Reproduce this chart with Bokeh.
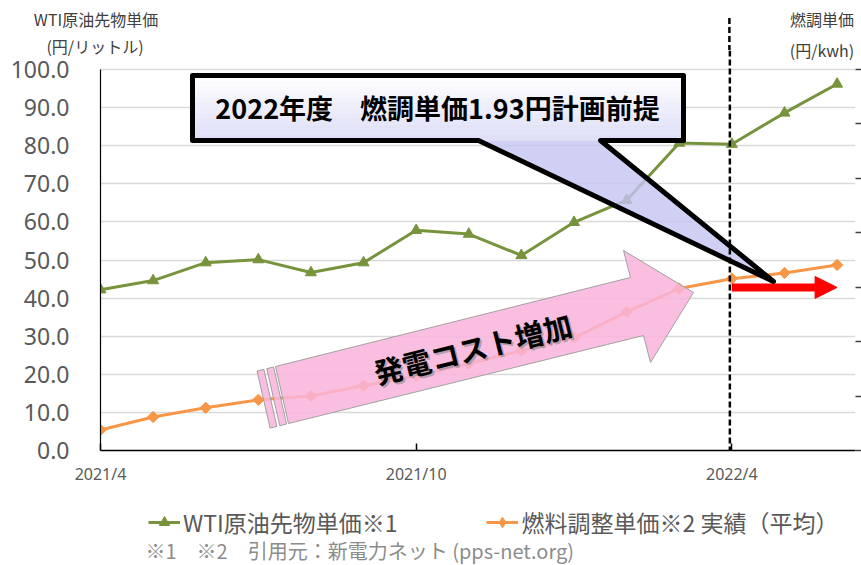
import numpy as np
from bokeh.plotting import figure
from bokeh.layouts import column
from bokeh.models import (Range1d, LinearAxis, FixedTicker, Label, Legend, LegendItem, Div,
                          PolyAnnotation, BoxAnnotation, Arrow, NormalHead, NumeralTickFormatter)
from bokeh.embed import file_html
from bokeh.resources import INLINE

# ---------------- data ----------------
months = ["2021/4", "2021/5", "2021/6", "2021/7", "2021/8", "2021/9", "2021/10", "2021/11",
          "2021/12", "2022/1", "2022/2", "2022/3", "2022/4", "2022/5", "2022/6"]
wti = [42.2, 44.6, 49.3, 50.1, 46.7, 49.3, 57.8, 56.8, 51.2, 59.9, 65.7, 80.7, 80.4, 88.6, 96.2]
fuel = [5.4, 8.8, 11.2, 13.3, 14.3, 17.0, 19.6, 22.8, 26.2, 29.6, 36.4, 42.5, 45.1, 46.6, 48.7]
x_tick_labels = ["2021/4", "2021/10", "2022/4"]
y_ticks = [0, 10, 20, 30, 40, 50, 60, 70, 80, 90, 100]
right_ticks = [0, 0.5, 1.0, 1.5, 2.0, 2.5, 3.0, 3.5]
plan_level = 42.8          # planned fuel-adjustment level (left-axis units)
plan_start, plan_end = "2022/4", "2022/6"

series_names = ["WTI原油先物単価※1", "燃料調整単価※2 実績（平均）"]
left_title = ["WTI原油先物単価", "(円/リットル)"]
right_title = ["燃調単価", "(円/kwh)"]
callout_text = "2022年度　燃調単価1.93円計画前提"
arrow_text = "発電コスト増加"
footnote = "※1　※2　引用元：新電力ネット (pps-net.org)"

x = list(range(len(months)))
XMAX = 14.35
W, H = 861, 565
TOP_H = 50                      # header strip (axis titles)
MAIN_H = 495 - TOP_H
BL, BR, BT, BB = 100, 6, 0, 45
FW = W - BL - BR
FH = MAIN_H - BT - BB            # frame bottom sits at page y = 450
YMAX = 100 * FH / 381.0

GREEN = "#77933C"
ORANGE = "#F79646"
JP = "Noto Sans CJK JP"

p = figure(width=W, height=MAIN_H, x_range=Range1d(0, XMAX), y_range=Range1d(0, YMAX),
           output_backend="svg", toolbar_location=None,
           min_border_left=BL, min_border_right=BR, min_border_top=BT, min_border_bottom=BB,
           outline_line_color=None, background_fill_alpha=0, border_fill_alpha=0)

# x axis
xt = [months.index(m) for m in x_tick_labels]
p.xaxis.ticker = FixedTicker(ticks=xt)
p.xaxis.major_label_overrides = {i: m for i, m in zip(xt, x_tick_labels)}
p.xaxis.major_tick_in = 7
p.xaxis.major_tick_out = 0
p.xaxis.minor_tick_line_color = None
p.xaxis.axis_line_color = "black"
p.xaxis.axis_line_width = 1.5
p.xaxis.major_tick_line_color = "black"
p.xaxis.major_tick_line_width = 1.5
p.xaxis.major_label_text_font = "Noto Sans"
p.xaxis.major_label_text_font_size = "16px"
p.xaxis.major_label_text_color = "#595959"
p.xaxis.major_label_standoff = 12

# left axis
p.yaxis.ticker = FixedTicker(ticks=y_ticks)
p.yaxis.bounds = (y_ticks[0], y_ticks[-1])
p.yaxis.formatter = NumeralTickFormatter(format="0.0")
p.yaxis.major_tick_in = 0
p.yaxis.major_tick_out = 0
p.yaxis.minor_tick_line_color = None
p.yaxis.axis_line_color = "black"
p.yaxis.axis_line_width = 1.2
p.yaxis.major_label_text_font = "Noto Sans"
p.yaxis.major_label_text_font_size = "23px"
p.yaxis.major_label_text_color = "#595959"
p.yaxis.major_label_standoff = 31

p.xgrid.grid_line_color = None
p.ygrid.ticker = FixedTicker(ticks=y_ticks)
p.ygrid.grid_line_color = "#d9d9d9"
p.ygrid.grid_line_width = 1.5

# right axis (unlabelled)
p.extra_y_ranges = {"right": Range1d(right_ticks[0], right_ticks[-1] * FH / 381.0)}
ra = LinearAxis(y_range_name="right", ticker=FixedTicker(ticks=right_ticks),
                bounds=(right_ticks[0], right_ticks[-1]))
ra.major_label_overrides = {t: "" for t in right_ticks}
ra.major_label_text_font_size = "1px"
ra.major_label_standoff = 0
ra.major_tick_in = 0
ra.major_tick_out = 6
ra.major_tick_line_color = "#404040"
ra.major_tick_line_width = 1.5
ra.minor_tick_line_color = None
ra.axis_line_color = None
p.add_layout(ra, "right")

# series
G_STYLE = dict(line_color=GREEN, line_width=3)
O_STYLE = dict(line_color=ORANGE, line_width=3)
G_MARK = dict(marker="triangle", size=11, fill_color=GREEN, line_color=GREEN)
O_MARK = dict(marker="square", angle=np.pi / 4, size=8, fill_color=ORANGE, line_color=ORANGE)
p.line(x, wti, **G_STYLE)
p.scatter(x, wti, **G_MARK)
p.line(x, fuel, **O_STYLE)
p.scatter(x, fuel, **O_MARK)

# helpers: page pixel -> frame-relative screen units
def sx(px):
    return px - BL

def sy(py):
    return 450 - py

def poly(pts, **kw):
    p.add_layout(PolyAnnotation(xs=[sx(a) for a, b in pts], ys=[sy(b) for a, b in pts],
                                xs_units="screen", ys_units="screen", **kw))

# pink block arrow
PINK = dict(fill_color="#F9B4DA", fill_alpha=0.85, line_color="#a0a0a0", line_alpha=1.0,
            line_width=1)
poly([(275, 366), (630, 277), (623, 250), (693, 292), (650, 362), (643, 335), (288, 423)], **PINK)
for t0, t1 in [(-19, -12), (-9, -2)]:
    ux, uy = 0.970, -0.242
    poly([(275 + t0 * ux, 366 + t0 * uy), (275 + t1 * ux, 366 + t1 * uy),
          (288 + t1 * ux, 423 + t1 * uy), (288 + t0 * ux, 423 + t0 * uy)], **PINK)

ang = np.deg2rad(14)
for dx, dy, col, al in [(2, 2, "#808080", 0.55), (0, 0, "black", 1.0)]:
    p.add_layout(Label(x=sx(472 + dx), y=sy(347 + dy), x_units="screen", y_units="screen",
                       text=arrow_text, angle=ang, text_align="center", text_baseline="middle",
                       text_font=JP, text_font_style="bold", text_font_size="29px",
                       text_color=col, text_alpha=al))

# red plan arrow
p.add_layout(Arrow(x_start=months.index(plan_start), y_start=plan_level,
                   x_end=months.index(plan_end), y_end=plan_level,
                   line_color="#FF0000", line_width=8,
                   end=NormalHead(size=22, fill_color="#FF0000", line_color="#FF0000", line_width=1)))

# callout: tail
poly([(478, 138), (600, 138), (773, 281)], fill_color="#c4c4f2", fill_alpha=0.8, line_color=None)
# callout: box gradient
L, R, T, B = 192, 683, 75, 140
n = 12
c0 = np.array([255, 255, 255])
c1 = np.array([222, 222, 248])
for i in range(n):
    f = (i + 0.5) / n
    c = c0 + (c1 - c0) * f
    col = "#%02x%02x%02x" % tuple(int(v) for v in c)
    y0 = T + (B - T) * i / n
    y1 = T + (B - T) * (i + 1) / n + 0.6
    p.add_layout(BoxAnnotation(left=sx(L), right=sx(R), top=sy(y0), bottom=sy(y1),
                               left_units="screen", right_units="screen",
                               top_units="screen", bottom_units="screen",
                               fill_color=col, fill_alpha=1.0, line_color=None))
poly([(L, T), (R, T), (R, B), (600, B), (773, 281), (478, B), (L, B)],
     fill_alpha=0, line_color="black", line_alpha=1.0, line_width=5, line_join="round")
p.add_layout(Label(x=sx(437), y=sy(107), x_units="screen", y_units="screen", text=callout_text,
                   text_align="center", text_baseline="middle",
                   text_font=JP, text_font_style="bold", text_font_size="27px",
                   text_color="black"))

# dashed vertical line at 2022/4
dash_sx = months.index(plan_start) / XMAX * FW
DASH_PX = BL + dash_sx - 2
p.add_layout(Arrow(x_start=dash_sx - 2, y_start=sy(TOP_H), x_end=dash_sx - 2, y_end=sy(450),
                   start_units="screen", end_units="screen", start=None, end=None,
                   line_color="black", line_width=2.5, line_dash="6 3"))

# ---------------- header strip: axis titles + top of dashed line ----------------
def tdiv(txt, cx, cy):
    return ('<div style="position:absolute;left:%dpx;top:%dpx;width:200px;height:20px;'
            'line-height:20px;text-align:center;white-space:nowrap;">%s</div>'
            % (cx - 100, cy - 10, txt))

header_html = (
    '<div style="position:relative;width:%dpx;height:%dpx;overflow:visible;'
    'font-family:\'Noto Sans CJK JP\';font-size:16px;color:#404040;">' % (W, TOP_H)
    + tdiv(left_title[0], 96, 19) + tdiv(left_title[1], 95, 46)
    + tdiv(right_title[0], 822, 19) + tdiv(right_title[1], 822, 50)
    + '<svg width="%d" height="%d" style="position:absolute;left:0;top:0;">'
      '<line x1="%.1f" y1="18" x2="%.1f" y2="%d" stroke="black" stroke-width="2.5" '
      'stroke-dasharray="6 3"/></svg>' % (W, TOP_H, DASH_PX, DASH_PX, TOP_H)
    + '</div>')
header = Div(text=header_html, width=W, height=TOP_H, margin=0)

# ---------------- legend strip below ----------------
LH = H - 495
b = figure(width=W, height=LH, x_range=Range1d(0, W), y_range=Range1d(0, LH),
           output_backend="svg", toolbar_location=None, min_border=0,
           x_axis_location=None, y_axis_location=None, outline_line_color=None,
           background_fill_color="white", border_fill_color="white")
b.xgrid.visible = False
b.ygrid.visible = False
# legend proxies: drawn outside the visible range, only their legend glyphs show
LEG_O_MARK = dict(marker="diamond", size=13, fill_color=ORANGE, line_color=ORANGE)
gl = b.line([-50, -40], [-50, -50], **G_STYLE)
gs = b.scatter([-50], [-50], **G_MARK)
ol = b.line([-50, -40], [-50, -50], **O_STYLE)
osc = b.scatter([-50], [-50], **LEG_O_MARK)
lg = Legend(items=[LegendItem(label=series_names[0], renderers=[gl, gs]),
                   LegendItem(label=series_names[1], renderers=[ol, osc])],
            location=(148 - BL, H - 539), orientation="horizontal", glyph_width=32,
            glyph_height=26, label_standoff=3, spacing=89, padding=0, margin=0,
            border_line_color=None, background_fill_alpha=0, label_text_font=JP,
            label_text_font_size="23px", label_text_color="#595959", label_height=28)
b.add_layout(lg, "center")
b.add_layout(Label(x=145 - BL, y=H - 550, x_units="screen", y_units="screen", text=footnote,
                   text_align="left", text_baseline="middle", text_font=JP,
                   text_font_size="20px", text_color="#8c8c8c"))

layout = column(header, p, b, spacing=0)
open("out.html", "w").write(file_html(layout, INLINE))
